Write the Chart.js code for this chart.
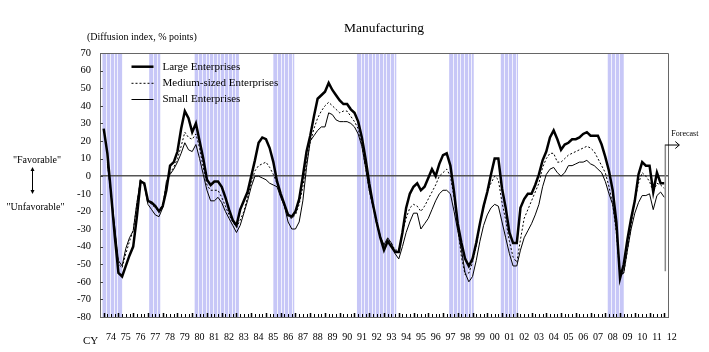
<!DOCTYPE html>
<html>
<head>
<meta charset="utf-8">
<script src="https://cdn.jsdelivr.net/npm/chart.js@4.4.1/dist/chart.umd.min.js"></script>
<style>
  html, body { margin: 0; padding: 0; background: #fff; }
  #wrap { width: 709px; height: 352px; position: relative; }
</style>
</head>
<body>
<div id="wrap"><canvas id="chart"></canvas></div>
<script>
// Tankan business conditions DI, manufacturing, quarterly from 1974 Q1 (last point = forecast)
const firstYear = 1974;
const large = [
  27, 13, -10, -34, -55, -57, -51, -45, -40, -23,
  -3, -4, -14, -15, -17, -20, -17, -8, 6, 8,
  14, 27, 37, 33, 25, 30, 20, 10, -2, -5,
  -3, -3, -6, -12, -19, -25, -28, -19, -14, -9,
  0, 9, 19, 22, 21, 16, 8, -3, -10, -16,
  -22, -23, -20, -13, 0, 14, 23, 34, 44, 46,
  48, 53, 49, 46, 43, 41, 41, 38, 36, 31,
  22, 10, -4, -16, -26, -35, -42, -37, -40, -43,
  -43, -32, -18, -10, -6, -4, -8, -6, -1, 4,
  0, 7, 12, 13, 6, -9, -27, -38, -47, -51,
  -47, -38, -27, -17, -9, 1, 10, 10, -7, -18,
  -32, -38, -38, -18, -13, -10, -10, -5, 1, 9,
  14, 22, 26, 21, 15, 18, 19, 21, 21, 22,
  24, 25, 23, 23, 23, 18, 11, 3, -8, -26,
  -58, -50, -36, -24, -14, 1, 8, 6, 6, -9,
  2, -4, -4
];
const medium = [
  null, 8, -10, -31, -50, -52, -44, -37, -31, -16,
  -2, -4, -14, -16, -18, -20, -16, -5, 2, 5,
  10, 17, 25, 22, 21, 24, 16, 5, -5, -8,
  -8, -8, -12, -17, -22, -26, -29, -25, -20, -12,
  -4, 3, 6, 7, 8, 5, 1, -4, -10, -17,
  -23, -24, -22, -16, -6, 8, 19, 27, 33, 37,
  40, 42, 40, 38, 36, 37, 37, 34, 31, 27,
  18, 5, -8, -17, -27, -35, -40, -36, -38, -42,
  -42, -32, -24, -18, -16, -17, -20, -17, -13, -9,
  -5, 0, 2, 4, 0, -12, -29, -46, -56, -55,
  -49, -40, -27, -18, -9, -4, 0, -2, -15, -25,
  -37, -46, -49, -36, -24, -19, -14, -9, -4, 5,
  10, 13, 13, 8, 8, 10, 12, 13, 14, 15,
  16, 17, 16, 14, 10, 6, 2, -6, -16, -32,
  -57, -55, -42, -28, -14, -4, 2, 0, -3, -9,
  -4, -5, -7
];
const small = [
  null, 7, -10, -29, -48, -51, -41, -35, -31, -15,
  -2, -5, -16, -19, -22, -23, -18, -3, 1, 4,
  8, 13, 19, 15, 14, 18, 10, 1, -8, -14,
  -14, -12, -15, -20, -24, -28, -32, -28, -21, -14,
  -6, 0, 0, -1, -2, -4, -5, -6, -12, -17,
  -26, -30, -30, -26, -14, 5, 20, 23, 26, 28,
  28, 36, 35, 32, 31, 31, 31, 30, 28, 24,
  17, 5, -8, -17, -26, -34, -39, -35, -38, -44,
  -47, -40, -32, -26, -21, -21, -30, -27, -24, -19,
  -14, -10, -8, -8, -10, -20, -31, -42, -55, -60,
  -57, -48, -37, -28, -22, -18, -16, -17, -26, -35,
  -44, -51, -51, -42, -35, -31, -27, -22, -16, -6,
  1, 4, 5, 2, 0, 2, 6, 6, 7, 8,
  8, 9, 7, 6, 4, 2, -3, -10, -16, -30,
  -56, -55, -42, -30, -21, -15, -11, -11, -10, -19,
  -11, -9, -12
];

// recession shading: business cycle peaks and troughs (month)
const peaks   = ['1973-11', '1977-01', '1980-02', '1985-06', '1991-02', '1997-05', '2000-11', '2008-02'];
const troughs = ['1975-03', '1977-10', '1983-02', '1986-11', '1993-10', '1999-01', '2002-01', '2009-03'];

const years = [];
for (let y = 1974; y <= 2012; y++) years.push(y);

const quarters = large.map((v, i) => `${firstYear + Math.floor(i / 4)} Q${i % 4 + 1}`);

const toX = s => { const [y, q] = s.split(' Q').map(Number); return y + (q - 1) / 4; };
const monthX = s => { const [y, m] = s.split('-').map(Number); return y + (m - 1) / 12; };
const pts = arr => arr.map((v, i) => ({ x: toX(quarters[i]), y: v }));

const SERIF = "'Liberation Serif', 'Times New Roman', serif";
Chart.defaults.font.family = SERIF;
Chart.defaults.color = '#000';

const AXIS = '#666';

const decor = {
  id: 'decor',
  beforeDraw(chart) {
    const { ctx, chartArea: a, scales: { x } } = chart;
    ctx.save();
    ctx.fillStyle = '#fff';
    ctx.fillRect(0, 0, chart.width, chart.height);
    ctx.beginPath();
    ctx.rect(a.left, a.top, a.right - a.left, a.bottom - a.top);
    ctx.clip();
    peaks.forEach((p, i) => {
      const v0 = monthX(p) + 1 / 12, v1 = monthX(troughs[i]) + 1 / 12;
      const x0 = x.getPixelForValue(v0), x1 = x.getPixelForValue(v1);
      ctx.fillStyle = '#c7c7f7';
      ctx.fillRect(x0, a.top, x1 - x0, a.bottom - a.top);
      ctx.strokeStyle = 'rgba(255,255,255,0.75)';
      ctx.lineWidth = 1;
      for (let v = v0 + 0.25; v < v1 - 0.1; v += 0.25) {
        const px = Math.round(x.getPixelForValue(v)) + 0.5;
        ctx.beginPath(); ctx.moveTo(px, a.top); ctx.lineTo(px, a.bottom); ctx.stroke();
      }
    });
    ctx.restore();
  },
  afterDraw(chart) {
    const { ctx, chartArea: a, scales: { x, y } } = chart;
    ctx.save();
    // top and right frame
    ctx.strokeStyle = AXIS; ctx.lineWidth = 1;
    ctx.beginPath();
    ctx.moveTo(a.left, a.top + 0.5); ctx.lineTo(a.right + 0.5, a.top + 0.5); ctx.lineTo(a.right + 0.5, a.bottom);
    ctx.stroke();

    // inward ticks, x: quarters and years
    ctx.strokeStyle = '#000';
    for (let v = 1974; v <= 2012.01; v += 0.25) {
      const px = Math.round(x.getPixelForValue(v)) + 0.5;
      const isYear = Math.abs(v - Math.round(v)) < 1e-6;
      ctx.lineWidth = isYear ? 1.5 : 1;
      ctx.beginPath(); ctx.moveTo(px, a.bottom); ctx.lineTo(px, a.bottom - (isYear ? 4 : 3)); ctx.stroke();
    }
    // inward ticks, y
    ctx.lineWidth = 1; ctx.strokeStyle = '#444';
    for (let v = -70; v <= 60; v += 10) {
      const py = Math.round(y.getPixelForValue(v)) + 0.5;
      ctx.beginPath(); ctx.moveTo(a.left, py); ctx.lineTo(a.left + 3, py); ctx.stroke();
    }

    // forecast marker
    const fx = x.getPixelForValue(toX(quarters[quarters.length - 1])) + 1;
    const fTop = y.getPixelForValue(18), fBot = y.getPixelForValue(-54);
    ctx.strokeStyle = '#888'; ctx.lineWidth = 1.5;
    ctx.beginPath(); ctx.moveTo(fx, fBot); ctx.lineTo(fx, fTop); ctx.stroke();
    ctx.strokeStyle = '#000'; ctx.lineWidth = 1;
    ctx.beginPath(); ctx.moveTo(fx, fTop + 0.5); ctx.lineTo(fx + 14, fTop + 0.5); ctx.stroke();
    ctx.beginPath(); ctx.moveTo(fx + 10, fTop - 3); ctx.lineTo(fx + 14, fTop + 0.5); ctx.lineTo(fx + 10, fTop + 4); ctx.stroke();
    ctx.fillStyle = '#000';
    ctx.font = `8px ${SERIF}`;
    ctx.textAlign = 'left'; ctx.textBaseline = 'middle';
    ctx.fillText('Forecast', fx + 6, fTop - 11);

    // titles
    ctx.font = `13.5px ${SERIF}`;
    ctx.textAlign = 'center';
    ctx.fillText('Manufacturing', (a.left + a.right) / 2, 28);
    ctx.font = `10px ${SERIF}`;
    ctx.textAlign = 'left';
    ctx.fillText('(Diffusion index, % points)', 87, 37.5);
    ctx.font = `11px ${SERIF}`;
    ctx.fillText('CY', 83, 341);

    // favorable / unfavorable
    ctx.font = `10px ${SERIF}`;
    ctx.textAlign = 'center';
    ctx.fillText('"Favorable"', 37, 160);
    ctx.fillText('"Unfavorable"', 35.5, 207);
    const ax = 32.5;
    ctx.beginPath(); ctx.moveTo(ax, 168); ctx.lineTo(ax, 193); ctx.stroke();
    ctx.beginPath(); ctx.moveTo(ax - 2, 171); ctx.lineTo(ax, 167); ctx.lineTo(ax + 2, 171); ctx.closePath(); ctx.fill();
    ctx.beginPath(); ctx.moveTo(ax - 2, 190); ctx.lineTo(ax, 194); ctx.lineTo(ax + 2, 190); ctx.closePath(); ctx.fill();

    // legend inside the plot
    const rows = [66.7, 83.3, 99.5];
    ctx.font = `11px ${SERIF}`;
    ctx.textAlign = 'left';
    chart.data.datasets.forEach((ds, i) => {
      ctx.strokeStyle = ds.borderColor;
      ctx.lineWidth = ds.borderWidth;
      ctx.setLineDash(ds.borderDash || []);
      ctx.beginPath(); ctx.moveTo(131.5, rows[i]); ctx.lineTo(153.5, rows[i]); ctx.stroke();
      ctx.setLineDash([]);
      ctx.fillText(ds.label, 162.5, rows[i]);
    });
    ctx.restore();
  }
};

new Chart(document.getElementById('chart'), {
  type: 'line',
  data: {
    datasets: [
      { label: 'Large Enterprises', data: pts(large), borderColor: '#000', borderWidth: 2.5 },
      { label: 'Medium-sized Enterprises', data: pts(medium), borderColor: '#000', borderWidth: 1, borderDash: [2, 2] },
      { label: 'Small Enterprises', data: pts(small), borderColor: '#000', borderWidth: 1 }
    ]
  },
  options: {
    responsive: true,
    maintainAspectRatio: false,
    devicePixelRatio: 1,
    animation: false,
    layout: { padding: { top: 53, right: 41, left: 0, bottom: 0 } },
    elements: { point: { radius: 0 }, line: { tension: 0, fill: false } },
    plugins: { legend: { display: false }, tooltip: { enabled: false } },
    scales: {
      x: {
        type: 'linear',
        min: 1973.75,
        max: 2012.25,
        afterBuildTicks: s => { s.ticks = years.map(v => ({ value: v })); },
        afterFit: s => { s.height = 35; },
        ticks: {
          autoSkip: false, maxRotation: 0, padding: 6, labelOffset: 7.4,
          font: { size: 10 }, color: '#000',
          callback: v => String(v % 100).padStart(2, '0')
        },
        grid: { display: false },
        border: { display: true, color: AXIS, width: 1 }
      },
      y: {
        min: -80,
        max: 70,
        afterFit: s => { s.width = 100; },
        ticks: { stepSize: 10, padding: 9, font: { size: 10.5 }, color: '#000' },
        grid: {
          drawTicks: false,
          color: c => (c.tick && c.tick.value === 0 ? '#555' : 'rgba(0,0,0,0)'),
          lineWidth: c => (c.tick && c.tick.value === 0 ? 1.5 : 0)
        },
        border: { display: true, color: AXIS, width: 1 }
      }
    }
  },
  plugins: [decor]
});
</script>
</body>
</html>
